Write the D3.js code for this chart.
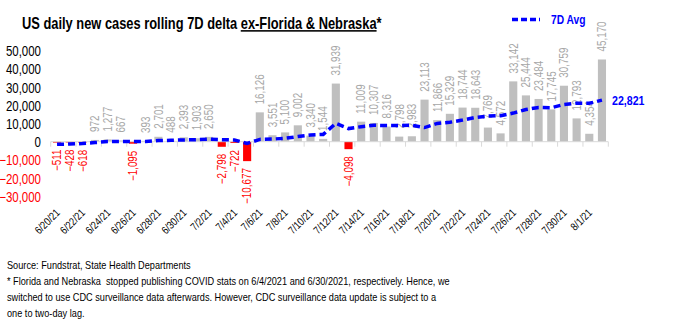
<!DOCTYPE html>
<html>
<head>
<meta charset="utf-8">
<script src="https://cdn.jsdelivr.net/npm/d3@7/dist/d3.min.js"></script>
<style>
  html, body { margin: 0; padding: 0; background: #ffffff; }
  svg { display: block; }
  text { font-family: 'Liberation Sans', Arial, sans-serif; }
</style>
</head>
<body>
<svg id="chart" width="676" height="328"></svg>
<script>
// Daily change in US new cases (rolling 7D delta), ex-Florida & Nebraska
const dates = [
  "6/20/21","6/21/21","6/22/21","6/23/21","6/24/21","6/25/21","6/26/21","6/27/21",
  "6/28/21","6/29/21","6/30/21","7/1/21","7/2/21","7/3/21","7/4/21","7/5/21",
  "7/6/21","7/7/21","7/8/21","7/9/21","7/10/21","7/11/21","7/12/21","7/13/21",
  "7/14/21","7/15/21","7/16/21","7/17/21","7/18/21","7/19/21","7/20/21","7/21/21",
  "7/22/21","7/23/21","7/24/21","7/25/21","7/26/21","7/27/21","7/28/21","7/29/21",
  "7/30/21","7/31/21","8/1/21","8/2/21"
];

const dailyDelta = [
  -511, -428, -618, 972, 1277, 667, -1095, 393,
  2701, 488, 2393, 1903, 2650, -2798, -722, -10677,
  16126, 3551, 5100, 9002, 3340, 1544, 31939, -4098,
  11009, 10307, 8316, 2798, 2983, 23113, 11866, 15329,
  18744, 18643, 7769, 4572, 33142, 25444, 23484, 17745,
  30759, 12793, 4354, 45170
];

// 7-day average of the daily delta
const avg7d = [
  -1400, -1300, -1000, -500, 100, 100, 38, 167,
  614, 772, 975, 1064, 1348, 1104, 945, -966,
  1268, 1433, 1890, 2797, 3674, 3998, 10086, 7197,
  8262, 9006, 8908, 8831, 9036, 7775, 10056, 10673,
  11878, 13354, 14064, 14291, 15724, 17663, 18828, 18686,
  20416, 21134, 21103, 22821
];

const yTicks = [-30000, -20000, -10000, 0, 10000, 20000, 30000, 40000, 50000];

const titleMain = "US daily new cases rolling 7D delta ";
const titleUnderlined = "ex-Florida & Nebraska";
const titleTail = "*";
const legendLabel = "7D Avg";
const footnotes = [
  "Source: Fundstrat, State Health Departments",
  "* Florida and Nebraska  stopped publishing COVID stats on 6/4/2021 and 6/30/2021, respectively. Hence, we",
  "switched to use CDC surveillance data afterwards. However, CDC surveillance data update is subject to a",
  "one to two-day lag."
];

const BLUE = "#0000ff", RED = "#ff0000", BAR = "#bfbfbf", LABEL_GRAY = "#a6a6a6";
// horizontal squeeze giving the condensed (narrow) letterforms
const NARROW = 0.82;

const svg = d3.select("#chart");
svg.append("rect").attr("width", 676).attr("height", 328).attr("fill", "#fff");

const idx = d3.range(dates.length);
const x = d3.scaleBand().domain(idx).range([50.7, 608.3]).paddingInner(0.36).paddingOuter(0.18);
const y = d3.scaleLinear().domain([-30000, 50000]).range([196.3, 50.7]);
const cx = i => x(i) + x.bandwidth() / 2;
const fmt = d3.format(",");

// Title
const title = svg.append("text").attr("transform", `translate(22,29) scale(${NARROW},1)`)
  .attr("font-size", 15.7).attr("font-weight", "bold").attr("fill", "#000")
  .attr("xml:space", "preserve");
title.append("tspan").text(titleMain);
title.append("tspan").attr("text-decoration", "underline").text(titleUnderlined);
title.append("tspan").text(titleTail);

// Legend
svg.append("line").attr("x1", 512).attr("x2", 540).attr("y1", 19.5).attr("y2", 19.5)
  .attr("stroke", BLUE).attr("stroke-width", 3.5).attr("stroke-dasharray", "6,3");
svg.append("text").attr("transform", `translate(551,24) scale(${NARROW},1)`).attr("font-size", 12.5)
  .attr("font-weight", "bold").attr("fill", BLUE).text(legendLabel);

// Y axis labels (positive black, negative red)
const yAxis = d3.axisLeft(y).tickValues(yTicks).tickFormat(fmt).tickSize(0).tickPadding(0);
const yg = svg.append("g").attr("transform", "translate(41,0)").call(yAxis);
yg.select(".domain").remove();
yg.selectAll("text")
  .attr("x", null).attr("dy", "0.36em")
  .attr("transform", `scale(${NARROW},1)`)
  .attr("font-size", 14)
  .attr("font-family", "'Liberation Sans', Arial, sans-serif")
  .attr("fill", d => d < 0 ? RED : "#000");

// Bars
svg.append("g").selectAll("rect").data(idx).join("rect")
  .attr("x", i => x(i))
  .attr("width", x.bandwidth())
  .attr("y", i => y(Math.max(0, dailyDelta[i])))
  .attr("height", i => Math.abs(y(dailyDelta[i]) - y(0)))
  .attr("fill", i => dailyDelta[i] < 0 ? RED : BAR);

// Zero line with tick marks every two categories
const step = x.step();
const gap = (step - x.bandwidth()) / 2;
svg.append("line").attr("x1", 50.7).attr("x2", 608.3).attr("y1", y(0)).attr("y2", y(0))
  .attr("stroke", "#d9d9d9").attr("stroke-width", 1);
const tickIdx = d3.range(0, dates.length + 1, 2);
const tickX = k => (k < dates.length ? x(k) - gap : x(dates.length - 1) + x.bandwidth() + gap);
svg.append("g").selectAll("line").data(tickIdx).join("line")
  .attr("x1", tickX).attr("x2", tickX)
  .attr("y1", y(0)).attr("y2", y(0) + 5)
  .attr("stroke", "#d9d9d9").attr("stroke-width", 1);

// Bar value labels
svg.append("g").selectAll("text").data(idx).join("text")
  .attr("transform", i => {
    const v = dailyDelta[i];
    const yy = v >= 0 ? y(v) - 8 : y(v) + 7;
    return `translate(${cx(i) + 4.3},${yy}) rotate(-90) scale(${NARROW},1)`;
  })
  .attr("text-anchor", i => dailyDelta[i] >= 0 ? "start" : "end")
  .attr("font-size", 12)
  .attr("fill", i => dailyDelta[i] < 0 ? RED : LABEL_GRAY)
  .text(i => fmt(dailyDelta[i]));

// 7D average line
const line = d3.line().x((d, i) => cx(i)).y(d => y(d));
svg.append("path").datum(avg7d).attr("d", line)
  .attr("fill", "none").attr("stroke", BLUE).attr("stroke-width", 3.5)
  .attr("stroke-dasharray", "7,4");

// Last value label
const last = avg7d.length - 1;
svg.append("text").attr("transform", `translate(${cx(last) + 10},${y(avg7d[last]) + 4.5}) scale(${NARROW},1)`)
  .attr("font-size", 13).attr("font-weight", "bold").attr("fill", BLUE)
  .text(fmt(avg7d[last]));

// Date labels every other day
svg.append("g").selectAll("text").data(idx.filter(i => i % 2 === 0)).join("text")
  .attr("transform", i => `translate(${cx(i) + 3.5},${213.5}) rotate(-45) scale(${NARROW},1)`)
  .attr("text-anchor", "end")
  .attr("font-size", 11)
  .attr("fill", "#000")
  .text(i => dates[i]);

// Footnotes
svg.append("g").selectAll("text").data(footnotes).join("text")
  .attr("transform", (d, i) => `translate(7,${269 + i * 16}) scale(${NARROW},1)`)
  .attr("font-size", 11.2).attr("fill", "#000")
  .attr("xml:space", "preserve")
  .text(d => d);
</script>
</body>
</html>
